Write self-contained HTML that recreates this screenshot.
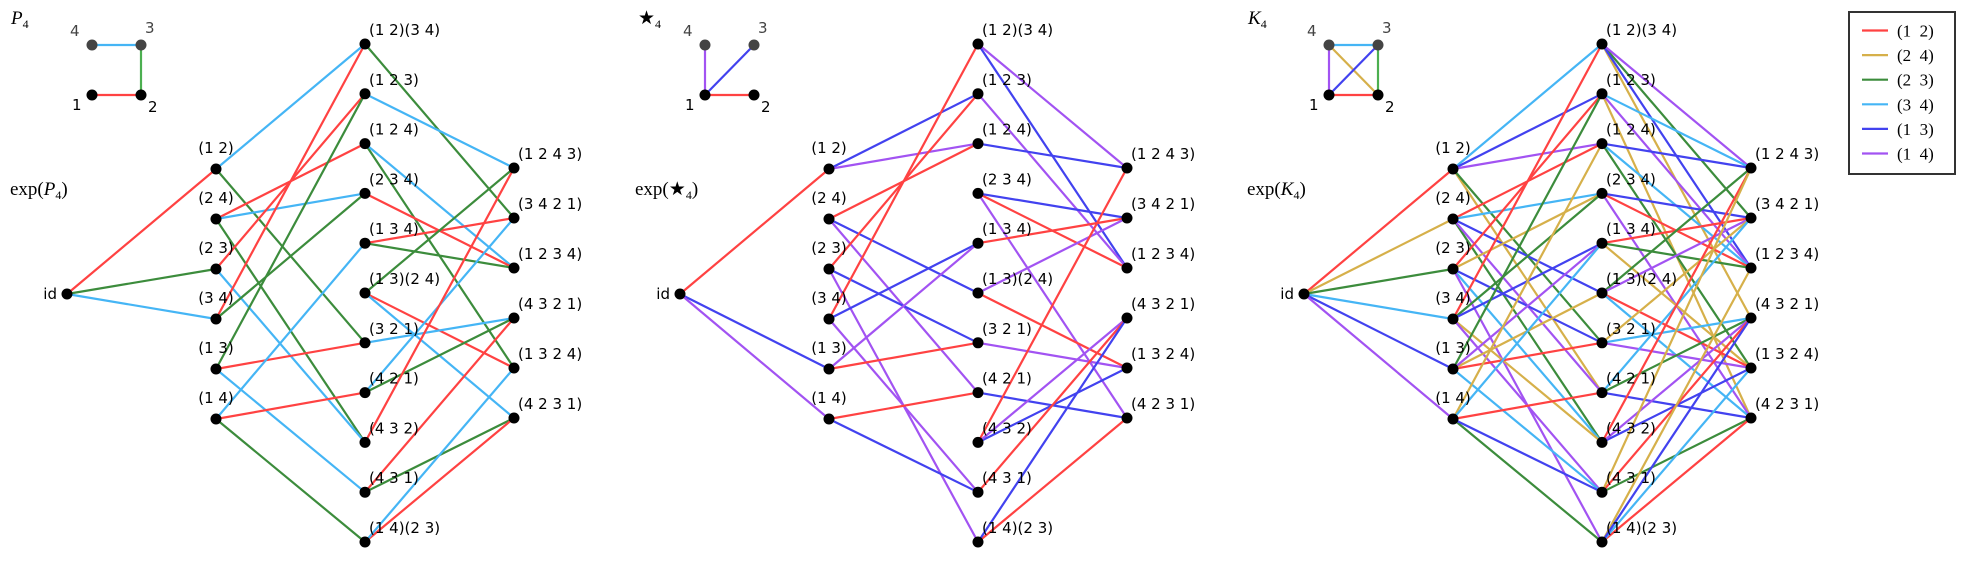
<!DOCTYPE html>
<html><head><meta charset="utf-8">
<style>
html,body{margin:0;padding:0;background:#fff;}
svg text{font-family:"DejaVu Sans","Liberation Sans",sans-serif;}
.m{font-family:"Liberation Serif",serif;}
</style></head>
<body>
<svg id="s" width="1967" height="558" xmlns="http://www.w3.org/2000/svg"></svg>
<script>
const C={'(1 2)':'#ff4242','(2 4)':'#d6b04a','(2 3)':'#3c8c3c','(3 4)':'#45b5f5','(1 3)':'#4242ef','(1 4)':'#a253f2'};
function parse(s){const p=[0,1,2,3,4];if(s==='id')return p;const cs=s.match(/\(([^)]*)\)/g);
 for(const c of cs){const a=c.slice(1,-1).trim().split(/\s+/).map(Number);for(let i=0;i<a.length;i++)p[a[i]]=a[(i+1)%a.length];}return p;}
const key=p=>p.slice(1).join('');
const L0=['id'];
const L1=['(1 2)','(2 4)','(2 3)','(3 4)','(1 3)','(1 4)'];
const L2=['(1 2)(3 4)','(1 2 3)','(1 2 4)','(2 3 4)','(1 3 4)','(1 3)(2 4)','(3 2 1)','(4 2 1)','(4 3 2)','(4 3 1)','(1 4)(2 3)'];
const L3=['(1 2 4 3)','(3 4 2 1)','(1 2 3 4)','(4 3 2 1)','(1 3 2 4)','(4 2 3 1)'];
const panels=[
 {dx:0,gens:['(1 2)','(2 3)','(3 4)'],title:'P',sub:'4',ge:[[1,2,'(1 2)'],[2,3,'(2 3)'],[3,4,'(3 4)']]},
 {dx:613,gens:['(1 2)','(1 3)','(1 4)'],title:'★',sub:'4',ge:[[1,2,'(1 2)'],[1,3,'(1 3)'],[1,4,'(1 4)']]},
 {dx:1237,gens:['(1 2)','(2 4)','(2 3)','(3 4)','(1 3)','(1 4)'],title:'K',sub:'4',ge:[[1,2,'(1 2)'],[2,4,'(2 4)'],[2,3,'(2 3)'],[3,4,'(3 4)'],[1,3,'(1 3)'],[1,4,'(1 4)']]}
];
let out='';
for(const P of panels){
 const dx=P.dx,pos={},nodes=[];
 const add=(lab,x,y,col)=>{const p=parse(lab);pos[key(p)]={x,y,lab,col};nodes.push(key(p));};
 add('id',67+dx,294,0);
 L1.forEach((l,i)=>add(l,216+dx,169+50*i,1));
 L2.forEach((l,i)=>add(l,365+dx,44+49.8*i,2));
 L3.forEach((l,i)=>add(l,514+dx,168+50*i,3));
 let e='';
 for(const k of nodes){const g=pos[k];const gp=parse(g.lab);
  for(const t of P.gens){const tp=parse(t);const h=[0];for(let i=1;i<=4;i++)h[i]=tp[gp[i]];
   const n=pos[key(h)];if(n&&n.col===g.col+1)e+=`<line x1="${g.x}" y1="${g.y}" x2="${n.x}" y2="${n.y.toFixed(1)}" stroke="${C[t]}" stroke-width="2.2"/>`;}}
 out+=e;
 for(const k of nodes){const n=pos[k];out+=`<circle cx="${n.x}" cy="${n.y.toFixed(1)}" r="5.5" fill="#000"/>`;
  if(n.col===0)out+=`<text x="${n.x-10}" y="${n.y+5}" font-size="15" text-anchor="end">${n.lab}</text>`;
  else if(n.col===1)out+=`<text x="${n.x}" y="${n.y-16}" font-size="15" text-anchor="middle">${n.lab}</text>`;
  else out+=`<text x="${n.x+4}" y="${(n.y-9).toFixed(1)}" font-size="15">${n.lab}</text>`;}
 // small graph
 const sp={1:[92+dx,95],2:[141+dx,95],3:[141+dx,45],4:[92+dx,45]};
 for(const [a,b,t] of P.ge)out+=`<line x1="${sp[a][0]}" y1="${sp[a][1]}" x2="${sp[b][0]}" y2="${sp[b][1]}" stroke="${t==='(2 3)'?'#4caf50':C[t]}" stroke-width="2.2"/>`;
 for(const i of [1,2,3,4])out+=`<circle cx="${sp[i][0]}" cy="${sp[i][1]}" r="5.5" fill="${i>2?'#444':'#000'}"/>`;
 out+=`<text x="${sp[4][0]-22}" y="${sp[4][1]-9}" font-size="15" fill="#444">4</text>`;
 out+=`<text x="${sp[3][0]+4}" y="${sp[3][1]-12}" font-size="15" fill="#444">3</text>`;
 out+=`<text x="${sp[1][0]-20}" y="${sp[1][1]+15}" font-size="15">1</text>`;
 out+=`<text x="${sp[2][0]+7}" y="${sp[2][1]+17}" font-size="15">2</text>`;
 const ti=P.title==='★'?`<tspan>★</tspan>`:`<tspan font-style="italic">${P.title}</tspan>`;
 out+=`<text class="m" x="${11+dx+(P.title==='★'?14:0)}" y="24" font-size="19">${ti}<tspan font-size="12" dy="4">${P.sub}</tspan></text>`;
 out+=`<text class="m" x="${10+dx+(P.title==='★'?12:0)}" y="195" font-size="19">exp(${ti}<tspan font-size="12" dy="4">${P.sub}</tspan><tspan dy="-4">)</tspan></text>`;
}
// legend
out+=`<rect x="1849" y="12" width="106" height="162" fill="#fff" stroke="#333" stroke-width="2"/>`;
['(1 2)','(2 4)','(2 3)','(3 4)','(1 3)','(1 4)'].forEach((t,i)=>{const y=30.5+24.6*i;
 out+=`<line x1="1862" y1="${y}" x2="1888" y2="${y}" stroke="${C[t]}" stroke-width="2.2"/>`;
 out+=`<text class="m" x="1897" y="${y+6}" font-size="17" xml:space="preserve">(${t[1]}  ${t[3]})</text>`;});
document.getElementById('s').innerHTML=out;
</script>
</body></html>
